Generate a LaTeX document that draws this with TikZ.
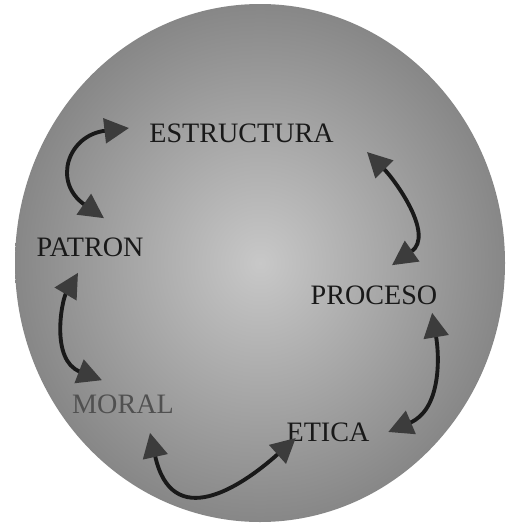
\documentclass[tikz,border=0pt]{standalone}
\usepackage{fontspec}
\setmainfont{Liberation Serif}
\usepackage{xcolor}
\usetikzlibrary{arrows.meta,positioning}
\definecolor{discdark}{RGB}{135,135,135}
\definecolor{disclight}{RGB}{200,200,200}
\definecolor{inkdark}{RGB}{25,25,25}
\definecolor{inkfaded}{RGB}{80,80,80}
\definecolor{headgray}{RGB}{60,60,60}

\begin{document}
\begin{tikzpicture}[x=0.02cm,y=-0.02cm,
  >={Triangle[length=14pt,width=14pt,color=headgray]},
  term/.style={inner sep=0pt,font=\fontsize{16}{18}\selectfont,text=inkdark},
  link/.style={<->,inkdark,line width=2.2pt}]

%% ── frame and shaded disc ────────────────────────────────────────────────────
\useasboundingbox (0,0) rectangle (506,524);
\shade[inner color=disclight,outer color=discdark]
  (260,263) ellipse [x radius=245,y radius=259];

%% ── the five terms ───────────────────────────────────────────────────────────
\node[term] (estructura) at (241.5,133) {ESTRUCTURA};
\node[term] (patron)     at (90,247)    {PATRON};
\node[term] (proceso)    at (374,295)   {PROCESO};
\node[term,text=inkfaded] (moral) at (123,404) {MORAL};
\node[term] (etica)      at (328,432)   {ETICA};

%% ── curved two-way links ─────────────────────────────────────────────────────
\draw[link] ([shift={(-20,-5)}]estructura.west)
  .. controls (68,135) and (52,182) .. ([shift={(14,-19)}]patron.north);
\draw[link] ([shift={(33,19)}]estructura.east)
  .. controls (395,180) and (435,235) .. ([shift={(18,-20)}]proceso.north);
\draw[link] ([shift={(-5.5,8)}]proceso.south east)
  .. controls (440,360) and (440,410) .. ([shift={(18.5,0)}]etica.east);
\draw[link] ([shift={(9.5,6)}]etica.west)
  .. controls (240,488) and (172,532) .. ([shift={(27,19)}]moral.south);
\draw[link] ([shift={(-12,16)}]patron.south)
  .. controls (62,300) and (50,360) .. ([shift={(-21,-14)}]moral.north);

\end{tikzpicture}
\end{document}
